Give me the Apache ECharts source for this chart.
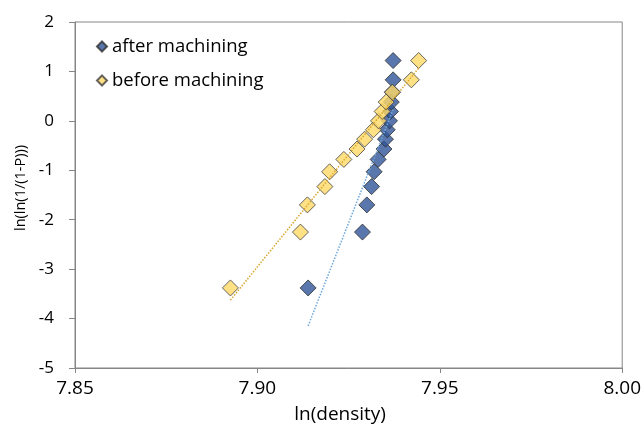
<!DOCTYPE html>
<html>
<head>
<meta charset="utf-8">
<script src="https://cdn.jsdelivr.net/npm/echarts@6/dist/echarts.min.js"></script>
<style>
html,body{margin:0;padding:0;background:#fff;}
#c{width:644px;height:429px;}
</style>
</head>
<body>
<div id="c"></div>
<script>
const seriesNames = ['after machining', 'before machining'];
const afterX = [7.9139, 7.9288, 7.9300, 7.9313, 7.9320, 7.9331, 7.9347, 7.9351, 7.9356, 7.9362, 7.9365, 7.9367, 7.9370, 7.9372, 7.9372];
const afterY = [-3.38, -2.25, -1.70, -1.33, -1.03, -0.78, -0.57, -0.37, -0.18, 0.00, 0.19, 0.38, 0.58, 0.83, 1.22];
const beforeX = [7.8926, 7.9118, 7.9137, 7.9185, 7.9198, 7.9237, 7.9273, 7.9294, 7.9318, 7.9332, 7.9342, 7.9353, 7.9370, 7.9422, 7.9442];
const beforeY = [-3.38, -2.25, -1.70, -1.33, -1.03, -0.78, -0.57, -0.37, -0.18, 0.00, 0.19, 0.38, 0.58, 0.83, 1.22];
const xTicks = [7.85, 7.90, 7.95, 8.00];
const yTicks = [-5, -4, -3, -2, -1, 0, 1, 2];

function pairs(xs, ys){ return xs.map((x,i)=>[x, ys[i]]); }
function trend(xs, ys){
  const n = xs.length;
  const mx = xs.reduce((a,b)=>a+b,0)/n, my = ys.reduce((a,b)=>a+b,0)/n;
  let sxy=0, sxx=0;
  for(let i=0;i<n;i++){ sxy+=(xs[i]-mx)*(ys[i]-my); sxx+=(xs[i]-mx)*(xs[i]-mx); }
  const b = sxy/sxx, a = my - b*mx;
  const x0 = Math.min(...xs), x1 = Math.max(...xs);
  return [[x0, a+b*x0],[x1, a+b*x1]];
}

const font = "'Open Sans', sans-serif";
const chart = echarts.init(document.getElementById('c'), null, {renderer:'canvas'});
chart.setOption({
  animation:false,
  backgroundColor:'#fff',
  textStyle:{fontFamily:font},
  grid:{left:75,right:17,top:22,bottom:60,show:true,borderColor:'#868686',borderWidth:1,containLabel:false},
  legend:{
    data:seriesNames,
    orient:'vertical', left:91, top:32,
    itemWidth:10, itemHeight:10, itemGap:15,
    textStyle:{fontFamily:font,fontSize:18.5,color:'#000'},
    icon:'diamond'
  },
  xAxis:{
    type:'value', min:xTicks[0], max:xTicks[xTicks.length-1], interval:0.05,
    name:'ln(density)', nameLocation:'middle', nameGap:37,
    nameTextStyle:{fontFamily:font,fontSize:19,color:'#000',padding:[0,17,0,0]},
    axisLine:{show:true,onZero:false,lineStyle:{color:'#868686'}},
    axisTick:{show:true,length:5,lineStyle:{color:'#868686'}},
    axisLabel:{fontFamily:font,fontSize:19,color:'#000',margin:11,formatter:v=>v.toFixed(2)},
    splitLine:{show:false}
  },
  yAxis:{
    type:'value', min:yTicks[0], max:yTicks[yTicks.length-1], interval:1,
    name:'ln(ln(1/(1-P)))', nameLocation:'middle', nameGap:47,
    nameTextStyle:{fontFamily:font,fontSize:14.5,color:'#000',padding:[0,0,0,14]},
    axisLine:{show:true,onZero:false,lineStyle:{color:'#868686'}},
    axisTick:{show:true,length:6,lineStyle:{color:'#868686'}},
    axisLabel:{fontFamily:font,fontSize:17,color:'#000',margin:21},
    splitLine:{show:false}
  },
  series:[
    {name:seriesNames[0], type:'scatter', symbol:'diamond', symbolSize:16, z:2,
     itemStyle:{color:'#2F5597',borderColor:'#303030',borderWidth:1},
     data:pairs(afterX, afterY)},
    {name:seriesNames[1], type:'scatter', symbol:'diamond', symbolSize:16, z:3,
     itemStyle:{color:'#FFD966',borderColor:'#404040',borderWidth:1},
     data:pairs(beforeX, beforeY)},
    {name:'trend after', type:'line', symbol:'none', z:4, silent:true,
     lineStyle:{color:'#6FA8DC',width:1.5,type:'dotted'},
     data:trend(afterX, afterY)},
    {name:'trend before', type:'line', symbol:'none', z:4, silent:true,
     lineStyle:{color:'#D9A62E',width:1.5,type:'dotted'},
     data:trend(beforeX, beforeY)}
  ]
});
</script>
</body>
</html>
